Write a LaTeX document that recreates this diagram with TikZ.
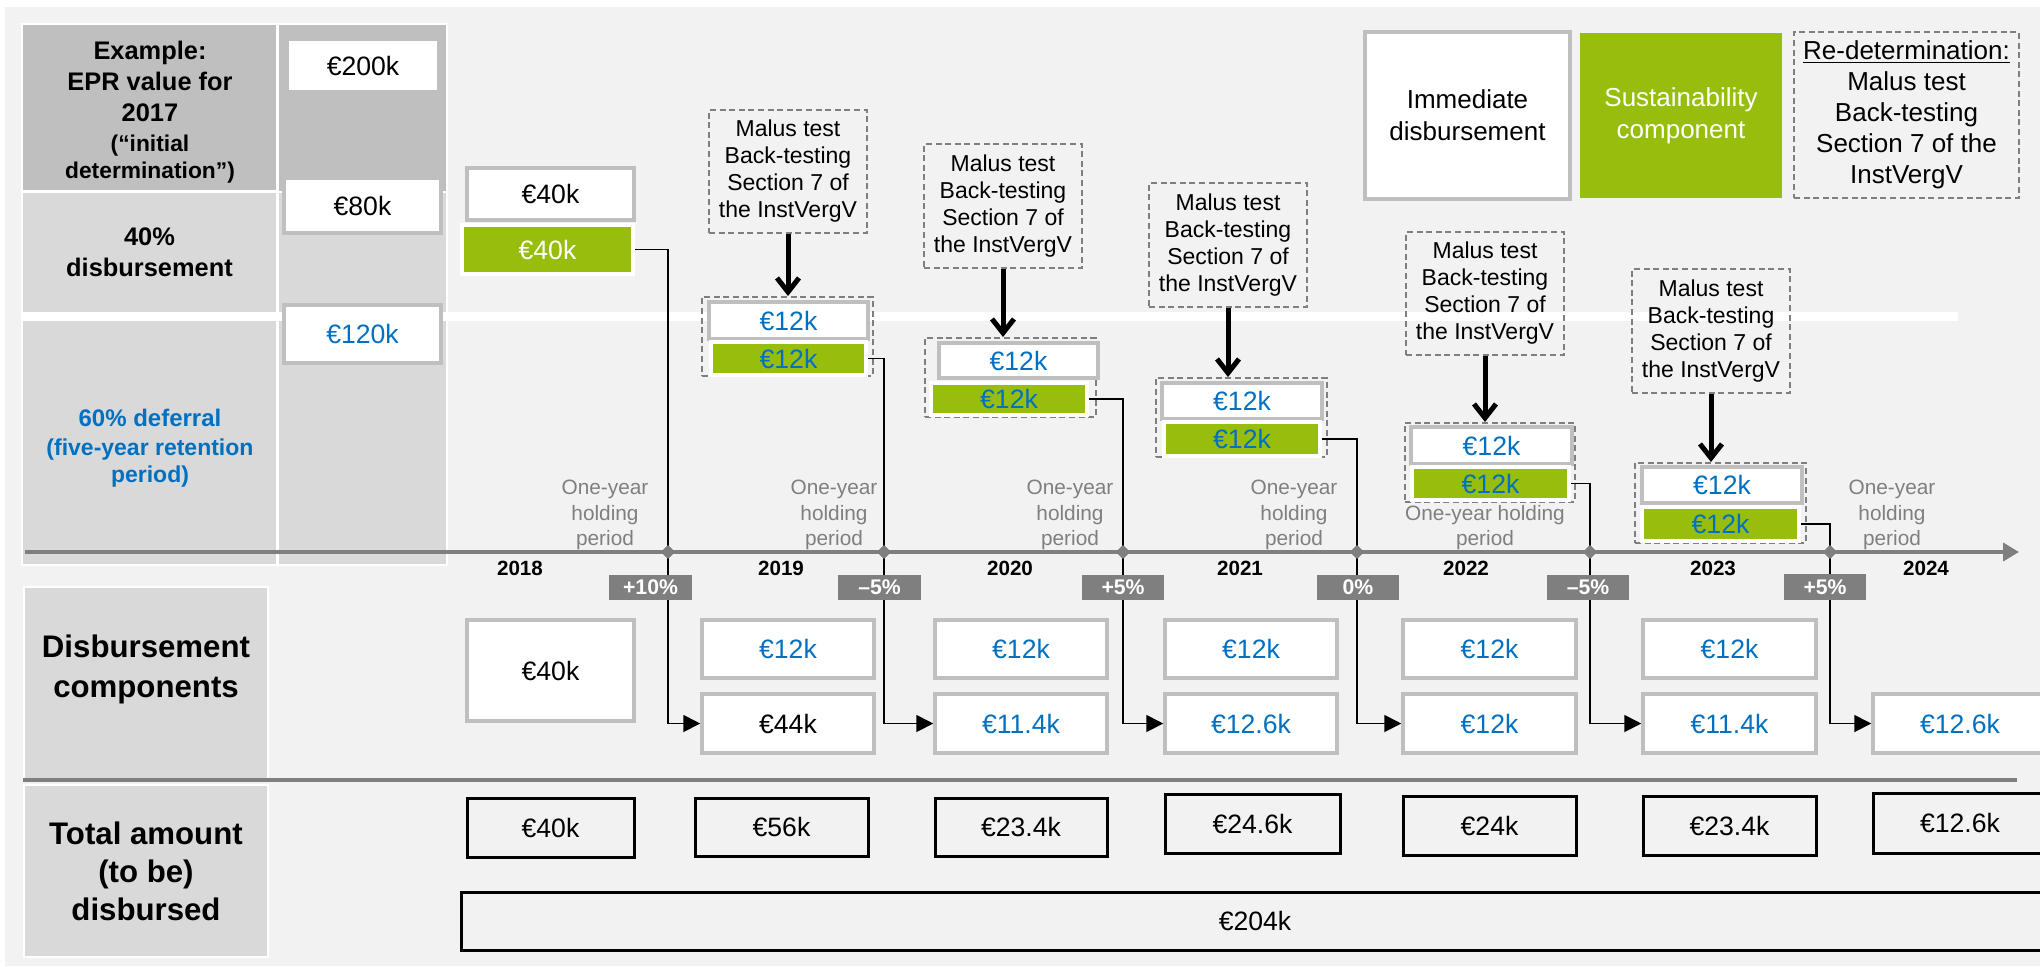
\documentclass[tikz,border=0pt]{standalone}
\usepackage{fontspec}
\setmainfont{Liberation Sans}
\usetikzlibrary{arrows.meta,shapes.geometric}
\definecolor{bgg}{HTML}{F2F2F2}
\definecolor{cellD}{HTML}{BFBFBF}
\definecolor{cellL}{HTML}{D9D9D9}
\definecolor{bord}{HTML}{BFBFBF}
\definecolor{dg}{HTML}{7F7F7F}
\definecolor{grn}{HTML}{97BD0D}
\definecolor{blu}{HTML}{0070C0}
\newcommand\myfs[2]{\fontsize{#1}{#2}\selectfont}
\newcommand\bx[7]{\node[inner sep=0pt, #6, minimum width={(#4-#2)*0.5pt}, minimum height={(#5-#3)*0.5pt}] (#1) at ({(#2+#4)/2},{(#3+#5)/2}) {#7};}
\tikzset{
 wbox/.style={draw=bord, line width=1.75pt, fill=white, font=\myfs{13.3}{16}},
 gbox/.style={draw=white, line width=2pt, fill=grn, font=\myfs{13.3}{16}},
 grp/.style={draw=dg, dash pattern=on 3pt off 1.8pt, line width=1pt},
 malus/.style={draw=dg, dash pattern=on 3pt off 1.8pt, line width=1pt, align=center, font=\myfs{11.5}{13.5}},
 tbox/.style={draw=black, line width=1.5pt, font=\myfs{13.3}{16}},
 badge/.style={fill=dg, text=white, font=\bfseries\myfs{10.6}{12}},
 yr/.style={font=\bfseries\myfs{10.3}{12}},
 hold/.style={text=dg, align=center, font=\myfs{10.4}{12.6}},
 conn/.style={draw=black, line width=0.9pt},
 cta/.style={conn, -{Triangle[length=8.5pt,width=8.5pt]}},
 marrow/.style={line width=2.5pt, -{Straight Barb[length=7pt,width=11pt]}},
 tline/.style={draw=dg, line width=2pt, -{Triangle[length=8pt,width=9pt]}},
 dia/.style={diamond, fill=dg, inner sep=0pt, minimum size=7pt},
 lbl/.style={align=center, font=\bfseries\myfs{12.7}{15.5}},
}
\begin{document}
\begin{tikzpicture}[x=0.5pt,y=-0.5pt]
\useasboundingbox (0,0) rectangle (2040,966);
\clip (0,0) rectangle (2040,966);
\fill[bgg] (5,7) rectangle (2040,966);
% upper left table
\fill[white] (21,23) rectangle (448,566);
\fill[white] (446,312) rectangle (1958,321);
\bx{r1a}{23}{25}{276}{190}{fill=cellD}{}
\bx{r1b}{279}{25}{446}{191}{fill=cellD}{}
\bx{r2a}{23}{193}{276}{312}{fill=cellL, lbl}{40\%\\disbursement}
\bx{r2b}{279}{193}{446}{312}{fill=cellL}{}
\bx{r3a}{23}{321}{276}{564}{fill=cellL}{}
\bx{r3b}{279}{321}{446}{564}{fill=cellL}{}
\node[lbl] (ex1) at (150,81) {Example:\\EPR value for\\2017};
\node[lbl, font=\bfseries\myfs{11.4}{13.5}] (ex2) at (150,159) {(“initial\\determination\char"22)};
\node[lbl, text=blu, font=\bfseries\myfs{12}{15}] (def1) at (150,418) {60\% deferral};
\node[lbl, text=blu, font=\bfseries\myfs{11.5}{13.5}] (def2) at (150,463) {(five-year retention\\period)};
\bx{v200}{287}{39}{439}{92}{wbox}{€200k}
\bx{v80}{284}{178}{441}{233}{wbox}{€80k}
\bx{v120}{284}{305}{441}{363}{wbox, text=blu}{€120k}
% lower left table
\fill[white] (23,586) rectangle (269,781);
\fill[white] (23,784) rectangle (269,958);
\bx{lDC}{25}{588}{267}{779}{fill=cellL}{}
\node[lbl, font=\bfseries\myfs{15.6}{20}] (lDCt) at (146,669) {Disbursement\\components};
\bx{lTA}{25}{786}{267}{956}{fill=cellL, lbl, font=\bfseries\myfs{15.6}{19}}{Total amount\\(to be)\\disbursed}
\draw[line width=2pt, dg] (23,780) -- (2017,780);
% legend
\bx{legI}{1365}{32}{1570}{199}{wbox, line width=2pt, align=center, font=\myfs{13}{16}}{Immediate\\disbursement}
\bx{legS}{1580}{33}{1782}{198}{fill=grn, text=white, align=center, font=\myfs{13}{16}}{Sustainability\\component}
\bx{legR}{1794}{32}{2019}{198}{malus, font=\myfs{13}{15.5}}{\underline{Re-determination:}\\Malus test\\Back-testing\\Section 7 of the\\InstVergV}
% malus boxes
\bx{m19}{709}{110}{867}{233}{malus}{Malus test\\Back-testing\\Section 7 of\\the InstVergV}
\bx{m20}{924}{144}{1082}{268}{malus}{Malus test\\Back-testing\\Section 7 of\\the InstVergV}
\bx{m21}{1149}{183}{1307}{307}{malus}{Malus test\\Back-testing\\Section 7 of\\the InstVergV}
\bx{m22}{1406}{232}{1564}{355}{malus}{Malus test\\Back-testing\\Section 7 of\\the InstVergV}
\bx{m23}{1632}{269}{1790}{393}{malus}{Malus test\\Back-testing\\Section 7 of\\the InstVergV}
% groups
\bx{w18}{467}{168}{634}{220}{wbox}{€40k}
\bx{g18}{462}{225}{633}{274}{gbox, text=white}{€40k}
\bx{grp19}{702}{297}{873}{376}{grp}{}
\bx{w19}{709}{302}{868}{339}{wbox, text=blu}{€12k}
\bx{g19}{711}{342}{866}{375}{gbox, text=blu}{€12k}
\bx{grp20}{925}{338}{1096}{417}{grp}{}
\bx{w20}{939}{343}{1098}{378}{wbox, text=blu}{€12k}
\bx{g20}{931}{383}{1087}{415}{gbox, text=blu}{€12k}
\bx{grp21}{1156}{378}{1327}{457}{grp}{}
\bx{w21}{1162}{383}{1322}{419}{wbox, text=blu}{€12k}
\bx{g21}{1164}{422}{1320}{456}{gbox, text=blu}{€12k}
\bx{grp22}{1405}{423}{1575}{502}{grp}{}
\bx{w22}{1411}{427}{1572}{464}{wbox, text=blu}{€12k}
\bx{g22}{1412}{467}{1569}{500}{gbox, text=blu}{€12k}
\bx{grp23}{1635}{463}{1806}{543}{grp}{}
\bx{w23}{1642}{467}{1802}{503}{wbox, text=blu}{€12k}
\bx{g23}{1642}{507}{1799}{541}{gbox, text=blu}{€12k}
% malus arrows
\draw[marrow] (m19.south) -- (m19.south |- grp19.north);
\draw[marrow] (m20.south) -- (m20.south |- grp20.north);
\draw[marrow] (m21.south) -- (m21.south |- grp21.north);
\draw[marrow] (m22.south) -- (m22.south |- grp22.north);
\draw[marrow] (m23.south) -- (m23.south |- grp23.north);
% timeline
\coordinate (tl0) at (25,552);
\coordinate (tl1) at (2019,552);
\draw[tline] (tl0) -- (tl1);
\node[hold] (h18) at (605,515) {One-year\\holding\\period};
\node[hold] (h19) at (834,515) {One-year\\holding\\period};
\node[hold] (h20) at (1070,515) {One-year\\holding\\period};
\node[hold] (h21) at (1294,515) {One-year\\holding\\period};
\node[hold] (h22) at (1485,528) {One-year holding\\period};
\node[hold] (h24) at (1892,515) {One-year\\holding\\period};
\node[yr] (y18) at (520,568) {2018};
\node[yr] (y19) at (781,568) {2019};
\node[yr] (y20) at (1010,568) {2020};
\node[yr] (y21) at (1240,568) {2021};
\node[yr] (y22) at (1466,568) {2022};
\node[yr] (y23) at (1713,568) {2023};
\node[yr] (y24) at (1926,568) {2024};
% components
\bx{c18}{467}{620}{634}{721}{wbox}{€40k}
\bx{c19a}{702}{620}{874}{678}{wbox, text=blu}{€12k}
\bx{c19b}{702}{694}{874}{753}{wbox}{€44k}
\bx{c20a}{935}{620}{1107}{678}{wbox, text=blu}{€12k}
\bx{c20b}{935}{694}{1107}{753}{wbox, text=blu}{€11.4k}
\bx{c21a}{1165}{620}{1337}{678}{wbox, text=blu}{€12k}
\bx{c21b}{1165}{694}{1337}{753}{wbox, text=blu}{€12.6k}
\bx{c22a}{1403}{620}{1576}{678}{wbox, text=blu}{€12k}
\bx{c22b}{1403}{694}{1576}{753}{wbox, text=blu}{€12k}
\bx{c23a}{1643}{620}{1816}{678}{wbox, text=blu}{€12k}
\bx{c23b}{1643}{694}{1816}{753}{wbox, text=blu}{€11.4k}
\bx{c24b}{1873}{694}{2047}{753}{wbox, text=blu}{€12.6k}
% diamonds and connectors
\node[dia] (d1) at (668,552) {};
\node[dia] (d2) at (884,552) {};
\node[dia] (d3) at (1123,552) {};
\node[dia] (d4) at (1357,552) {};
\node[dia] (d5) at (1590,552) {};
\node[dia] (d6) at (1830,552) {};
\draw[cta] (g18.east) -| (d1.center) |- (c19b.west);
\draw[cta] (g19.east) -| (d2.center) |- (c20b.west);
\draw[cta] (g20.east) -| (d3.center) |- (c21b.west);
\draw[cta] (g21.east) -| (d4.center) |- (c22b.west);
\draw[cta] (g22.east) -| (d5.center) |- (c23b.west);
\draw[cta] (g23.east) -| (d6.center) |- (c24b.west);
\node[dia] at (d1) {};
\node[dia] at (d2) {};
\node[dia] at (d3) {};
\node[dia] at (d4) {};
\node[dia] at (d5) {};
\node[dia] at (d6) {};
% badges
\bx{b1}{609}{575}{692}{600}{badge}{+10\%}
\bx{b2}{838}{575}{921}{600}{badge}{–5\%}
\bx{b3}{1082}{575}{1164}{600}{badge}{+5\%}
\bx{b4}{1317}{575}{1399}{600}{badge}{0\%}
\bx{b5}{1547}{575}{1629}{600}{badge}{–5\%}
\bx{b6}{1784}{574}{1866}{600}{badge}{+5\%}
% totals
\bx{t18}{467}{798}{634}{857}{tbox}{€40k}
\bx{t19}{695}{798}{868}{856}{tbox}{€56k}
\bx{t20}{935}{798}{1107}{856}{tbox}{€23.4k}
\bx{t21}{1165}{794}{1340}{853}{tbox}{€24.6k}
\bx{t22}{1403}{796}{1576}{855}{tbox}{€24k}
\bx{t23}{1643}{796}{1816}{855}{tbox}{€23.4k}
\bx{t24}{1873}{793}{2047}{853}{tbox}{€12.6k}
\bx{tall}{461}{892}{2049}{950}{tbox}{€204k}
\end{tikzpicture}
\end{document}
